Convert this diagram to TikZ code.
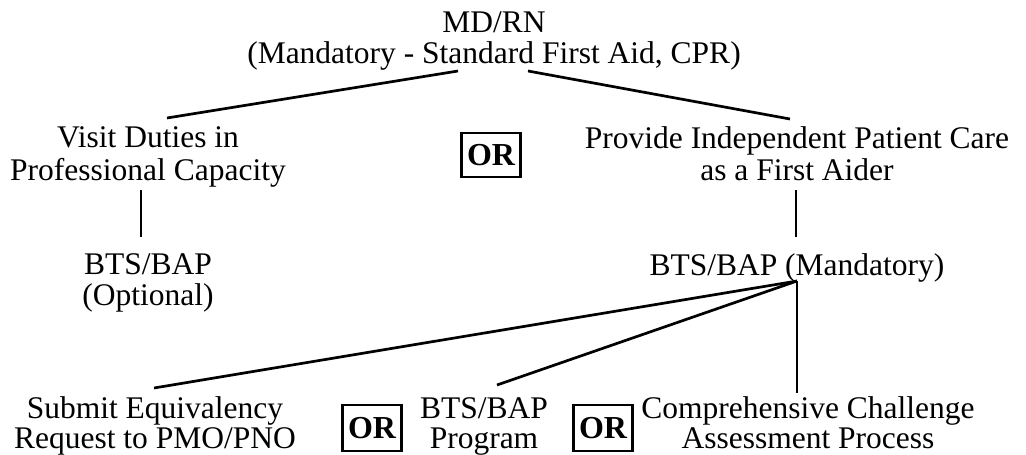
\documentclass[tikz,border=0pt]{standalone}
\usepackage{fontspec}
\setmainfont{Liberation Serif}
\usetikzlibrary{calc}
\begin{document}
\begin{tikzpicture}[x=1pt,y=-1pt,
  lbl/.style={align=center,inner sep=0pt,font=\fontsize{31.5}{30}\selectfont},
  orbox/.style={draw,line width=2.2pt,inner sep=0pt,minimum width=59pt,minimum height=44pt,font=\fontsize{32}{32}\selectfont\bfseries},
  conn/.style={line width=2.7pt}]
\useasboundingbox (0,0) rectangle (1026,455);
\node[lbl] (top) at (494,42) {\strut MD/RN\\\strut(Mandatory - Standard First Aid, CPR)};
\node[lbl] (visit) at (148,158) {\strut Visit Duties in\\\strut Professional Capacity};
\node[lbl] (provide) at (797,158) {\strut Provide Independent Patient Care\\\strut as a First Aider};
\node[orbox] (or1) at (491,155) {OR};
\node[lbl] (optional) at (148,284) {\strut BTS/BAP\\\strut(Optional)};
\node[lbl] (mand) at (797,269) {\strut BTS/BAP (Mandatory)};
\node[lbl] (submit) at (155,427) {\strut Submit Equivalency\\\strut Request to PMO/PNO};
\node[orbox,minimum height=46pt] (or2) at (372,428) {OR};
\node[lbl] (program) at (484,427) {\strut BTS/BAP\\\strut Program};
\node[orbox,minimum height=46pt] (or3) at (603,428) {OR};
\node[lbl] (comp) at (808,427) {\strut Comprehensive Challenge\\\strut Assessment Process};
\draw[conn] ($(top)+(-36,29)$) -- ($(visit)+(19,-40)$);
\draw[conn] ($(top)+(34,29)$) -- ($(provide)+(-7,-39)$);
\draw[conn] ($(visit)+(-7,32)$) -- ($(optional)+(-7,-47)$);
\draw[conn] ($(provide)+(-1,32)$) -- ($(mand)+(-1,-32)$);
\draw[conn] ($(mand)+(0,12)$) -- ($(submit)+(-1,-39)$);
\draw[conn] ($(mand)+(0,12)$) -- ($(program)+(13,-42)$);
\draw[conn] ($(mand)+(0,12)$) -- ($(comp)+(-11,-34)$);
\end{tikzpicture}
\end{document}
